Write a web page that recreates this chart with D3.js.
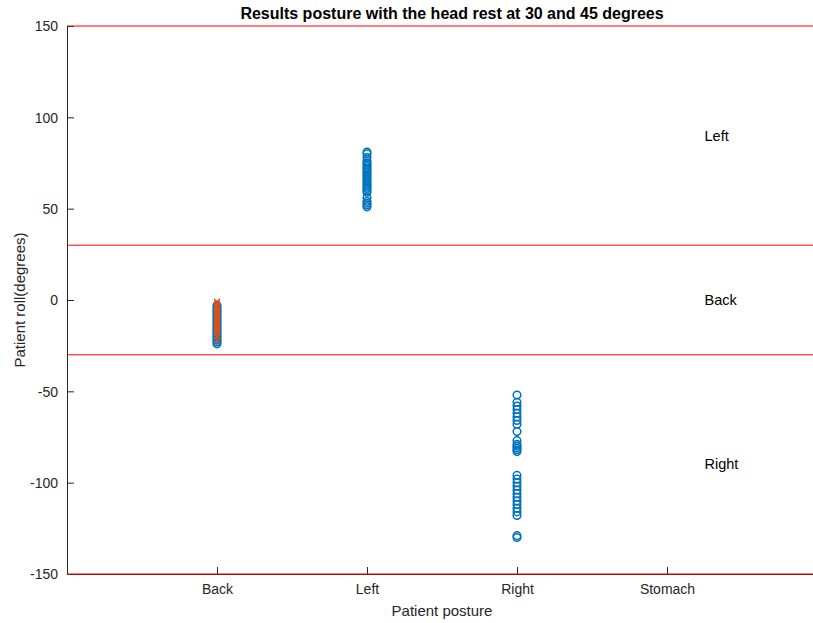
<!DOCTYPE html>
<html>
<head>
<meta charset="utf-8">
<script src="https://cdn.jsdelivr.net/npm/d3@7"></script>
<style>
  body { margin: 0; background: #fff; }
  svg { font-family: "Liberation Sans", Arial, sans-serif; }
</style>
</head>
<body>
<svg id="chart"></svg>
<script>
// Categories on the x axis (positions 1..4)
const categories = ['Back', 'Left', 'Right', 'Stomach'];
const yTicks = [-150, -100, -50, 0, 50, 100, 150];

// Threshold lines (degrees)
const thresholds = [150, 30, -30, -150];

// Zone labels
const zoneLabels = ['Left', 'Back', 'Right'];
const zoneValues = [90, 0, -90];

// Patient roll readings, blue circles per posture
const backCircles = [-24, -23, -22, -21, -20, -19, -18, -17, -16, -15, -14, -13, -12,
  -11, -10, -9, -8, -7, -6, -5, -4, -3];
const leftCircles = [81, 80, 78, 76, 75, 74, 73, 72, 71, 70, 69, 68, 67, 66, 65, 64,
  63, 62, 61, 60, 59, 56, 54, 53, 52, 51];
const rightCircles = [-52, -56, -58, -60, -62, -64, -66, -68, -72, -77, -79, -80, -81,
  -82, -83, -96, -98, -100, -102, -104, -106, -108, -110, -112, -114, -116, -118,
  -129, -130];

// Second series (orange crosses), only on Back
const backCrosses = [-22, -20, -18, -17, -16, -15, -14, -13, -12, -11, -10, -9, -8,
  -7, -6, -5, -4, -3, -2, -1];

const W = 813, H = 623;
const margin = {top: 26, right: -4, bottom: 49, left: 67};
const width = W - margin.left - margin.right;
const height = H - margin.top - margin.bottom;

const blue = '#0072BD', orange = '#D95319', ink = '#262626';

const svg = d3.select('#chart').attr('width', W).attr('height', H);

const x = d3.scaleLinear().domain([0, 5]).range([0, width]);
const y = d3.scaleLinear().domain([-150, 150]).range([height, 0]);

const g = svg.append('g').attr('transform', `translate(${margin.left},${margin.top})`);

// Axes
const xAxis = g.append('g')
    .attr('transform', `translate(0,${height})`)
    .call(d3.axisBottom(x).tickValues([1, 2, 3, 4])
        .tickFormat(d => categories[d - 1]).tickSizeInner(-7).tickSizeOuter(0).tickPadding(10));
const yAxis = g.append('g')
    .call(d3.axisLeft(y).tickValues(yTicks).tickFormat(d => String(d))
        .tickSizeInner(-7).tickSizeOuter(0).tickPadding(9));

[xAxis, yAxis].forEach(a => {
  a.select('.domain').attr('stroke', ink);
  a.selectAll('.tick line').attr('stroke', ink);
  a.selectAll('.tick text').attr('fill', ink).attr('font-size', 14);
});
yAxis.selectAll('.tick text').attr('dy', '0.35em');

// Red threshold lines
g.selectAll('.thr').data(thresholds).join('line')
    .attr('x1', 0).attr('x2', width)
    .attr('y1', d => y(d)).attr('y2', d => y(d))
    .attr('stroke', '#ff0000').attr('stroke-width', 1);

// Zone labels
g.selectAll('.zone').data(zoneLabels).join('text')
    .attr('x', x(4.25)).attr('y', (d, i) => y(zoneValues[i]))
    .attr('dy', '0.35em').attr('font-size', 14.5).attr('fill', '#000')
    .text(d => d);

// Circles
const circleData = [].concat(
  backCircles.map(v => [1, v]),
  leftCircles.map(v => [2, v]),
  rightCircles.map(v => [3, v]));
g.selectAll('.pt').data(circleData).join('circle')
    .attr('cx', d => x(d[0])).attr('cy', d => y(d[1])).attr('r', 3.8)
    .attr('fill', 'none').attr('stroke', blue).attr('stroke-width', 1.5);

// Crosses
const s = 3;
g.selectAll('.cross').data(backCrosses).join('path')
    .attr('transform', d => `translate(${x(1)},${y(d)})`)
    .attr('d', `M${-s},${-s}L${s},${s}M${-s},${s}L${s},${-s}`)
    .attr('stroke', orange).attr('stroke-width', 1.3).attr('fill', 'none');

// Title and axis labels
svg.append('text')
    .attr('x', 452).attr('y', 19)
    .attr('text-anchor', 'middle').attr('font-size', 16).attr('font-weight', 'bold')
    .attr('fill', '#000')
    .text('Results posture with the head rest at 30 and 45 degrees');
svg.append('text')
    .attr('x', margin.left + width / 2).attr('y', 616)
    .attr('text-anchor', 'middle').attr('font-size', 15).attr('fill', ink)
    .text('Patient posture');
svg.append('text')
    .attr('transform', `translate(25,${margin.top + height / 2}) rotate(-90)`)
    .attr('text-anchor', 'middle').attr('font-size', 15).attr('fill', ink)
    .text('Patient roll(degrees)');
</script>
</body>
</html>
